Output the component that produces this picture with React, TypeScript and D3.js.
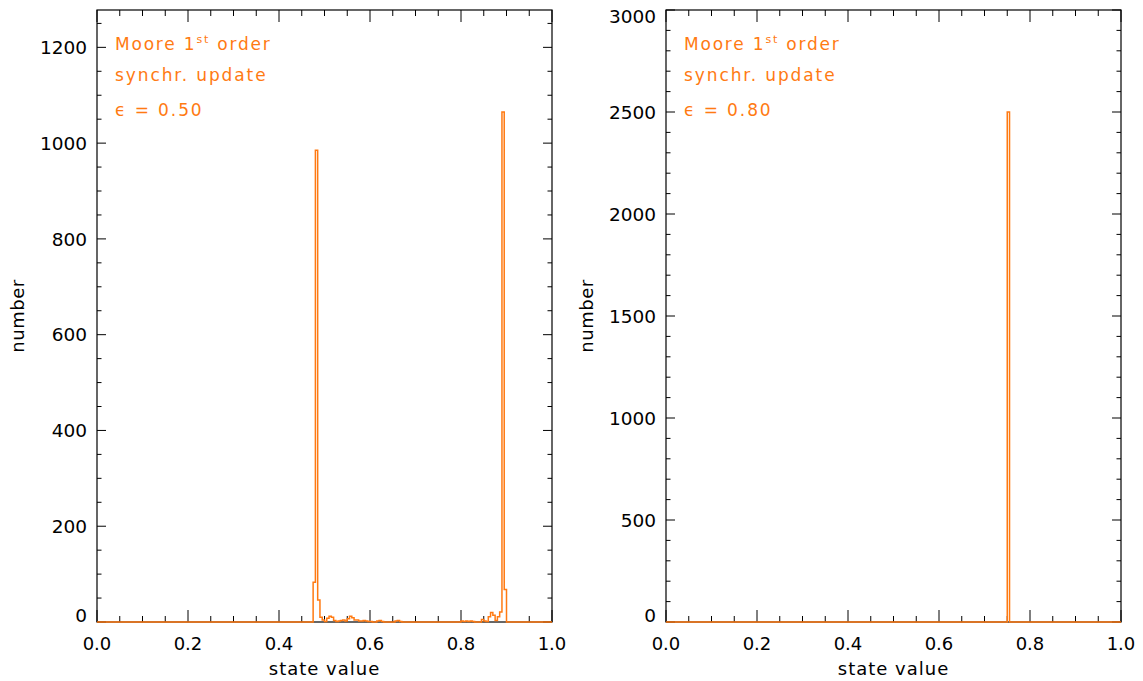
import React from 'react';
import * as d3 from 'd3';

const BIN_WIDTH = 0.005;
const N_BINS = 200;

// Left panel (epsilon = 0.50): non-empty bins, start value and count
const leftBinStarts = [
  0.475, 0.48, 0.485, 0.49, 0.495, 0.5, 0.505, 0.51, 0.515, 0.52, 0.525, 0.53, 0.535,
  0.54, 0.545, 0.55, 0.555, 0.56, 0.565, 0.57, 0.575, 0.58, 0.585, 0.59, 0.595, 0.6,
  0.615, 0.62, 0.625, 0.655, 0.66, 0.665, 0.8, 0.805, 0.81, 0.815, 0.82, 0.825,
  0.845, 0.85, 0.855, 0.86, 0.865, 0.87, 0.875, 0.88, 0.885, 0.89, 0.895,
];
const leftCounts = [
  83, 985, 46, 10, 4, 1, 8, 12, 10, 3, 1, 2, 3,
  4, 2, 7, 12, 9, 4, 4, 2, 2, 3, 2, 1, 1,
  2, 3, 1, 2, 3, 1, 2, 1, 2, 1, 2, 1,
  5, 2, 1, 11, 20, 14, 3, 11, 21, 1065, 68,
];

// Right panel (epsilon = 0.80)
const rightBinStarts = [0.75];
const rightCounts = [2500];

const xTickLabels = ['0.0', '0.2', '0.4', '0.6', '0.8', '1.0'];
const leftYTicks = [0, 200, 400, 600, 800, 1000, 1200];
const rightYTicks = [0, 500, 1000, 1500, 2000, 2500, 3000];

const ORANGE = '#ff7a12';
const FONT = "'DejaVu Sans', sans-serif";

function buildBins(starts: number[], counts: number[]) {
  const arr = new Array(N_BINS).fill(0);
  starts.forEach((s, i) => {
    const idx = Math.round(s / BIN_WIDTH);
    arr[idx] = counts[i];
  });
  return arr;
}

type PanelProps = {
  x0: number;
  x1: number;
  yMax: number;
  yTicks: number[];
  yMinorStep: number;
  starts: number[];
  counts: number[];
  eps: string;
};

function Panel({ x0, x1, yMax, yTicks, yMinorStep, starts, counts, eps }: PanelProps) {
  const top = 10;
  const bottom = 622;
  const x = d3.scaleLinear().domain([0, 1]).range([x0, x1]);
  const y = d3.scaleLinear().domain([0, yMax]).range([bottom, top]);
  const bins = buildBins(starts, counts);
  const pts: [number, number][] = bins.map((c, i) => [i * BIN_WIDTH, c]);
  pts.push([1, bins[N_BINS - 1]]);
  const line = d3
    .line<[number, number]>()
    .x((d) => x(d[0]))
    .y((d) => y(d[1]))
    .curve(d3.curveStepAfter);

  const xMajor = d3.range(0, 1.0001, 0.2);
  const xMinor = d3.range(0, 1.0001, 0.05).filter((v) => Math.abs(v * 5 - Math.round(v * 5)) > 1e-6);
  const yMinor = d3.range(0, yMax + 0.001, yMinorStep).filter((v) => !yTicks.includes(Math.round(v)));
  const xMajLen = 12;
  const xMinLen = 6;
  const yMajLen = 9;
  const yMinLen = 4.5;
  const tx = x0 + 18;

  return (
    <g>
      {/* x ticks */}
      {xMajor.map((v, i) => (
        <g key={'xM' + i}>
          <line x1={x(v)} x2={x(v)} y1={bottom} y2={bottom - xMajLen} stroke="#000" />
          <line x1={x(v)} x2={x(v)} y1={top} y2={top + xMajLen} stroke="#000" />
          <text x={x(v)} y={650} textAnchor="middle" fontFamily={FONT} fontSize={18} fill="#000">
            {xTickLabels[i]}
          </text>
        </g>
      ))}
      {xMinor.map((v, i) => (
        <g key={'xm' + i}>
          <line x1={x(v)} x2={x(v)} y1={bottom} y2={bottom - xMinLen} stroke="#000" />
          <line x1={x(v)} x2={x(v)} y1={top} y2={top + xMinLen} stroke="#000" />
        </g>
      ))}
      {/* y ticks */}
      {yTicks.map((v, i) => {
        const cy = Math.min(Math.max(y(v), top + 6), bottom - 6.5);
        return (
          <g key={'yM' + i}>
            <line x1={x0} x2={x0 + yMajLen} y1={y(v)} y2={y(v)} stroke="#000" />
            <line x1={x1} x2={x1 - yMajLen} y1={y(v)} y2={y(v)} stroke="#000" />
            <text
              x={x0 - 10}
              y={cy}
              dy="0.36em"
              textAnchor="end"
              fontFamily={FONT}
              fontSize={18.5}
              fill="#000"
            >
              {v}
            </text>
          </g>
        );
      })}
      {yMinor.map((v, i) => (
        <g key={'ym' + i}>
          <line x1={x0} x2={x0 + yMinLen} y1={y(v)} y2={y(v)} stroke="#000" />
          <line x1={x1} x2={x1 - yMinLen} y1={y(v)} y2={y(v)} stroke="#000" />
        </g>
      ))}
      {/* frame */}
      <rect x={x0} y={top} width={x1 - x0} height={bottom - top} fill="none" stroke="#000" strokeWidth={1.2} />
      {/* histogram */}
      <path d={line(pts) || ''} fill="none" stroke={ORANGE} strokeWidth={1.5} />
      {/* annotations */}
      <text x={tx} y={50} fontFamily={FONT} fontSize={17} fill={ORANGE} letterSpacing={1.8}>
        Moore 1
        <tspan fontSize={11} dy={-7}>st</tspan>
        <tspan dy={7}> order</tspan>
      </text>
      <text x={tx} y={81} fontFamily={FONT} fontSize={17} fill={ORANGE} letterSpacing={1.9}>
        synchr. update
      </text>
      <text x={tx} y={116} fontFamily={FONT} fontSize={17} fill={ORANGE} letterSpacing={1.9}>
        {'ϵ = ' + eps}
      </text>
      {/* axis titles */}
      <text
        x={(x0 + x1) / 2}
        y={675}
        textAnchor="middle"
        fontFamily={FONT}
        fontSize={18}
        letterSpacing={1}
        fill="#000"
      >
        state value
      </text>
      <text
        transform={`translate(${x0 - 73},${(top + bottom) / 2}) rotate(-90)`}
        textAnchor="middle"
        fontFamily={FONT}
        fontSize={18}
        letterSpacing={0.5}
        fill="#000"
      >
        number
      </text>
    </g>
  );
}

export default function App() {
  return (
    <svg
      width={1143}
      height={681}
      style={{ position: 'absolute', left: 0, top: 0, background: '#fff' }}
    >
      <rect width={1143} height={681} fill="#fff" />
      <Panel
        x0={97}
        x1={552}
        yMax={1278}
        yTicks={leftYTicks}
        yMinorStep={50}
        starts={leftBinStarts}
        counts={leftCounts}
        eps="0.50"
      />
      <Panel
        x0={666}
        x1={1121}
        yMax={3000}
        yTicks={rightYTicks}
        yMinorStep={100}
        starts={rightBinStarts}
        counts={rightCounts}
        eps="0.80"
      />
    </svg>
  );
}
